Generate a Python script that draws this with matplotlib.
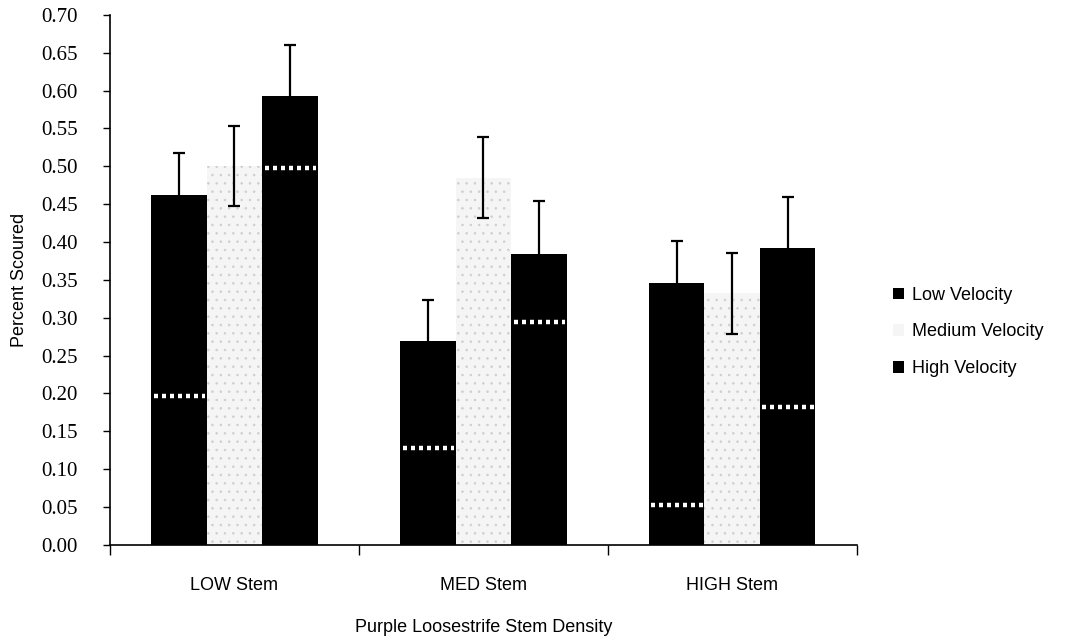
import numpy as np
import matplotlib
matplotlib.use("Agg")
import matplotlib.pyplot as plt
from matplotlib.patches import Patch

plt.rcParams["font.family"] = ["Liberation Sans", "DejaVu Sans"]
plt.rcParams["hatch.linewidth"] = 0.6

stems = ["LOW Stem", "MED Stem", "HIGH Stem"]
series = ["Low Velocity", "Medium Velocity", "High Velocity"]
means = {
    "Low Velocity": [0.462, 0.269, 0.346],
    "Medium Velocity": [0.500, 0.485, 0.332],
    "High Velocity": [0.593, 0.384, 0.392],
}
errs = {
    "Low Velocity": [0.056, 0.054, 0.055],
    "Medium Velocity": [0.053, 0.053, 0.053],
    "High Velocity": [0.067, 0.070, 0.068],
}
# white dotted marks inside the black bars
marks = {
    "Low Velocity": [0.196, 0.128, 0.052],
    "High Velocity": [0.498, 0.294, 0.182],
}
yticks = [round(0.05 * i, 2) for i in range(15)]

fig = plt.figure(figsize=(10.68, 6.44), dpi=100)
ax = fig.add_axes([0.103, 0.154, 0.699, 0.823])

x = np.arange(1, len(stems) + 1)
w = 0.223
offs = {"Low Velocity": -w, "Medium Velocity": 0.0, "High Velocity": w}
face = {"Low Velocity": "black", "Medium Velocity": "#f5f5f5", "High Velocity": "black"}

for s in series:
    xs = x + offs[s]
    if s == "Medium Velocity":
        ax.bar(xs, means[s], w, color=face[s], edgecolor="#cfcfcf", hatch="..",
               linewidth=0, zorder=1)
    else:
        ax.bar(xs, means[s], w, color=face[s], linewidth=0, zorder=2)
    ax.errorbar(xs, means[s], yerr=errs[s], fmt="none", ecolor="black",
                elinewidth=1.6, capsize=4, capthick=1.6, zorder=3)
    if s in marks:
        ax.hlines(marks[s], xs - w / 2 + 0.01, xs + w / 2 - 0.005, colors="white",
                  linewidth=3.2, linestyles=(0, (0.9, 0.9)), zorder=4)

ax.set_xlim(0.5, 3.5)
ax.set_ylim(0, 0.70)
ax.set_yticks(yticks)
ax.set_yticklabels([f"{t:.2f}" for t in yticks], family="Liberation Serif", fontsize=15)
ax.tick_params(axis="y", direction="out", length=5, width=1, pad=18)

ax.set_xticks(x)
ax.set_xticklabels(stems, fontsize=13)
ax.set_xticks([0.5, 1.5, 2.5, 3.5], minor=True)
ax.tick_params(axis="x", which="major", length=0, pad=23)
ax.tick_params(axis="x", which="minor", direction="out", length=7, width=1)

for sp in ("top", "right"):
    ax.spines[sp].set_visible(False)
ax.spines["left"].set_linewidth(1.2)
ax.spines["bottom"].set_linewidth(1.2)

ax.set_ylabel("Percent Scoured", fontsize=13, labelpad=10)
ax.set_xlabel("Purple Loosestrife Stem Density", fontsize=13, labelpad=18)

handles = [Patch(facecolor=face[s], edgecolor="none") for s in series]
fig.legend(handles, series, loc="center left", bbox_to_anchor=(893 / 1068, 1 - 332 / 644),
           frameon=False, fontsize=13, handlelength=0.6, handleheight=0.6,
           handletextpad=0.45, labelspacing=1.1, borderpad=0, borderaxespad=0)

fig.savefig("out.png", dpi=100)
